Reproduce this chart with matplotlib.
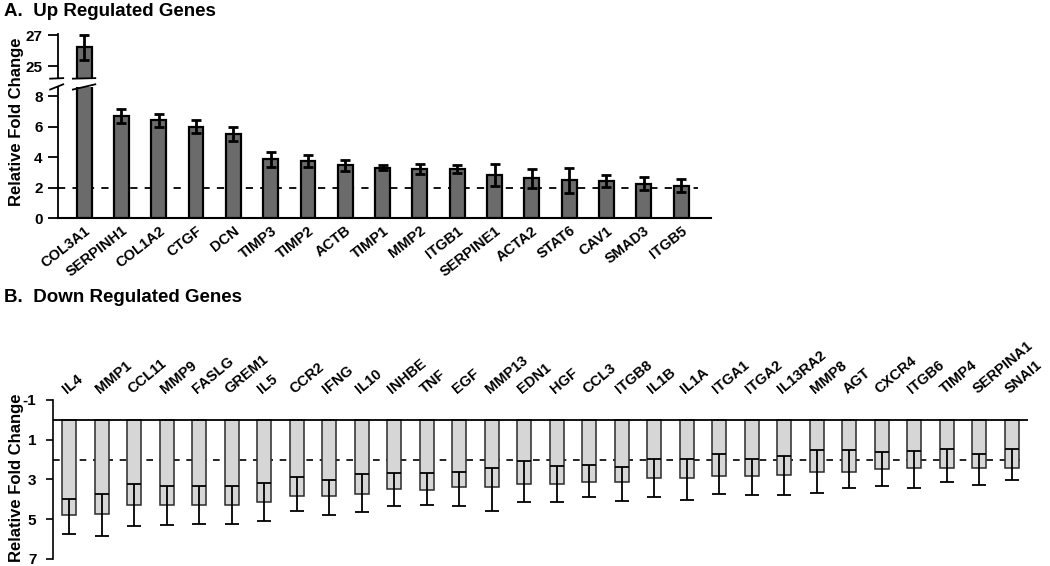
import numpy as np
import matplotlib
matplotlib.use("Agg")
from matplotlib import pyplot as plt
from matplotlib.transforms import blended_transform_factory

plt.rcParams['font.family'] = ['Liberation Sans', 'DejaVu Sans']
plt.rcParams['font.weight'] = 'bold'
plt.rcParams['axes.unicode_minus'] = False

# A. up regulated
up_genes = ["COL3A1", "SERPINH1", "COL1A2", "CTGF", "DCN", "TIMP3", "TIMP2", "ACTB", "TIMP1",
            "MMP2", "ITGB1", "SERPINE1", "ACTA2", "STAT6", "CAV1", "SMAD3", "ITGB5"]
up_fold = [26.2, 6.7, 6.4, 6.0, 5.5, 3.85, 3.75, 3.45, 3.3, 3.23, 3.19, 2.82, 2.6, 2.49, 2.43, 2.25, 2.12]
up_err = [0.8, 0.48, 0.4, 0.42, 0.45, 0.48, 0.4, 0.37, 0.15, 0.32, 0.26, 0.72, 0.6, 0.82, 0.4, 0.43, 0.43]

# B. down regulated
down_genes = ["IL4", "MMP1", "CCL11", "MMP9", "FASLG", "GREM1", "IL5", "CCR2", "IFNG", "IL10",
              "INHBE", "TNF", "EGF", "MMP13", "EDN1", "HGF", "CCL3", "ITGB8", "IL1B", "IL1A",
              "ITGA1", "ITGA2", "IL13RA2", "MMP8", "AGT", "CXCR4", "ITGB6", "TIMP4", "SERPINA1", "SNAI1"]
down_fold = [4.80, 4.75, 4.29, 4.29, 4.28, 4.28, 4.13, 3.82, 3.84, 3.76, 3.49, 3.52, 3.40, 3.37, 3.24,
             3.25, 3.15, 3.12, 2.95, 2.92, 2.83, 2.85, 2.77, 2.61, 2.63, 2.46, 2.45, 2.45, 2.41, 2.43]
down_err_minus = [0.79, 0.99, 1.05, 0.97, 0.96, 0.94, 0.94, 0.94, 0.79, 1.01, 0.83, 0.84, 0.77, 0.96, 1.18,
                  0.91, 0.89, 0.74, 0.97, 0.93, 1.09, 0.87, 0.95, 1.07, 1.11, 0.82, 0.89, 0.99, 0.67, 0.96]
down_err_plus = [0.96, 1.09, 1.05, 0.99, 0.97, 0.99, 0.95, 0.79, 0.97, 0.89, 0.84, 0.77, 0.95, 1.21, 0.89,
                 0.89, 0.72, 0.99, 0.94, 1.11, 0.89, 0.94, 1.04, 1.10, 0.81, 0.89, 0.99, 0.67, 0.89, 0.62]

threshold = 2

fig = plt.figure(figsize=(10.5, 5.66), dpi=100)

axA_top = fig.add_axes([0.0552, 0.8615, 0.6219, 0.0779])
axA = fig.add_axes([0.0552, 0.6148, 0.6219, 0.2316])
axB = fig.add_axes([0.0505, 0.0129, 0.9286, 0.2804])

xa = np.arange(len(up_genes))
for ax in (axA_top, axA):
    ax.bar(xa, up_fold, width=0.4, color='#6b6b6b', edgecolor='black', linewidth=1.6,
           yerr=up_err, capsize=3.5, error_kw=dict(elinewidth=2, capthick=2, ecolor='black'), zorder=3)
    ax.set_xlim(-0.7, 16.8)
    ax.spines['right'].set_visible(False)
    ax.spines['left'].set_linewidth(1.3)
    ax.tick_params(axis='y', labelsize=11, width=1.3, length=7, pad=4)

axA_top.set_ylim(24.2, 27.05)
axA_top.set_yticks([25, 27])
axA_top.spines['bottom'].set_visible(False)
axA_top.spines['top'].set_visible(False)
axA_top.set_xticks([])

axA.set_ylim(0, 8.6)
axA.set_yticks([0, 2, 4, 6, 8])
axA.spines['top'].set_visible(False)
axA.spines['bottom'].set_linewidth(1.5)
axA.axhline(threshold, xmin=0, xmax=0.98, color='black', linestyle=(0, (4, 4)), linewidth=1.3, zorder=2)
axA.set_xticks(xa)
axA.set_xticklabels(up_genes, rotation=38, ha='right', va='top', rotation_mode='anchor', fontsize=10.5)
axA.tick_params(axis='x', length=0, pad=4)

# break marks
for ax, yy, s in ((axA_top, 0.0, 0.3), (axA, 1.0, 1.0)):
    tr = blended_transform_factory(ax.transAxes, ax.transAxes)
    ax.plot([-0.012, 0.008], [yy - 0.02 * s, yy + 0.02 * s],
            transform=tr, color='black', linewidth=1.3, clip_on=False)
    trd = blended_transform_factory(ax.transData, ax.transAxes)
    ax.plot([xa[0] - 0.3, xa[0] + 0.3], [yy - 0.02 * s, yy + 0.02 * s],
            transform=trd, color='black', linewidth=1.3, clip_on=False, zorder=4)

for ax in (axA_top, axA):
    for lbl in ax.get_yticklabels() + ax.get_xticklabels():
        lbl.set_fontweight('bold')

fig.text(0.004, 0.995, "A.  Up Regulated Genes", fontsize=13.5, fontweight='bold', ha='left', va='top')
fig.text(0.016, 1 - 122 / 566, "Relative Fold Change", rotation=90, fontsize=12, fontweight='bold',
         ha='center', va='center')

# panel B
xb = np.arange(len(down_genes))
axB.bar(xb, down_fold, width=0.43, color='#d6d6d6', edgecolor='#2a2a2a', linewidth=1.1,
        yerr=[down_err_minus, down_err_plus], capsize=5,
        error_kw=dict(elinewidth=1.3, capthick=1.3, ecolor='black'), zorder=3)
axB.set_xlim(-0.5, 29.5)
axB.set_ylim(7, -1)
axB.set_yticks([-1, 1, 3, 5, 7])
axB.spines['right'].set_visible(False)
axB.spines['bottom'].set_visible(False)
axB.spines['top'].set_visible(False)
axB.spines['left'].set_linewidth(1.2)
axB.axhline(0, color='black', linewidth=1.3, zorder=4)
axB.axhline(threshold, xmin=0, xmax=0.995, color='black', linestyle=(0, (4, 4)), linewidth=1.2, zorder=2)
axB.tick_params(axis='y', labelsize=11, width=1.2, length=5, pad=7)
axB.xaxis.tick_top()
axB.set_xticks(xb)
axB.set_xticklabels(down_genes, rotation=40, ha='left', va='bottom', rotation_mode='anchor', fontsize=10.5)
axB.tick_params(axis='x', length=0, pad=3)
for lbl in axB.get_yticklabels() + axB.get_xticklabels():
    lbl.set_fontweight('bold')

fig.text(0.004, 1 - 298 / 566, "B.  Down Regulated Genes", fontsize=13.5, fontweight='bold', ha='left', va='center')
fig.text(0.016, 1 - 478 / 566, "Relative Fold Change", rotation=90, fontsize=12, fontweight='bold',
         ha='center', va='center')

fig.savefig("out.png", dpi=100)
